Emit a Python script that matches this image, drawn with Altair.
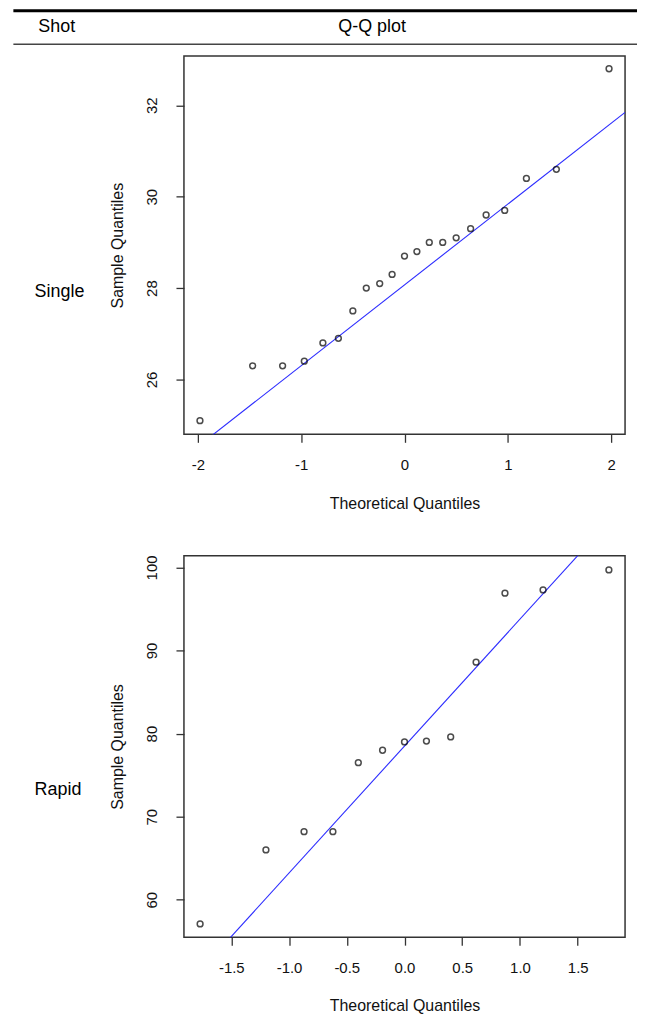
import altair as alt
import pandas as pd

# ---------------- data ----------------
header_labels = ["Shot", "Q-Q plot"]
row_labels = ["Single", "Rapid"]
x_title = "Theoretical Quantiles"
y_title = "Sample Quantiles"

single_theoretical = [-1.98, -1.47, -1.18, -0.97, -0.79, -0.64, -0.50, -0.37, -0.24, -0.12,
                      0.00, 0.12, 0.24, 0.37, 0.50, 0.64, 0.79, 0.97, 1.18, 1.47, 1.98]
single_sample = [25.1, 26.3, 26.3, 26.4, 26.8, 26.9, 27.5, 28.0, 28.1, 28.3,
                 28.7, 28.8, 29.0, 29.0, 29.1, 29.3, 29.6, 29.7, 30.4, 30.6, 32.8]
single_qqline = [28.07, 1.768]          # intercept, slope
single_x_ticks = [-2, -1, 0, 1, 2]
single_y_ticks = [26, 28, 30, 32]
single_x_domain = [-2.135, 2.135]
single_y_domain = [24.80, 33.08]

rapid_theoretical = [-1.77, -1.20, -0.87, -0.62, -0.40, -0.19, 0.00, 0.19, 0.40, 0.62, 0.87, 1.20, 1.77]
rapid_sample = [57.1, 66.0, 68.2, 68.2, 76.5, 78.0, 79.0, 79.1, 79.6, 88.6, 96.9, 97.3, 99.7]
rapid_qqline = [78.5, 15.28]            # intercept, slope
rapid_x_ticks = [-1.5, -1.0, -0.5, 0.0, 0.5, 1.0, 1.5]
rapid_y_ticks = [60, 70, 80, 90, 100]
rapid_x_domain = [-1.91, 1.91]
rapid_y_domain = [55.5, 101.4]

FONT = "Liberation Sans"
PLOT_W = 443


def label_expr(fmt):
    return ("datum.value < 0 ? '-' + format(-datum.value, '%s') : format(datum.value, '%s')" % (fmt, fmt))


def panel(theo, samp, qq, xt, yt, xd, yd, fmt, height):
    pts = pd.DataFrame({"q": theo, "s": samp})
    ln = pd.DataFrame({"q": xd, "s": [qq[0] + qq[1] * v for v in xd]})
    x = alt.X("q:Q",
              scale=alt.Scale(domain=xd, nice=False, zero=False),
              axis=alt.Axis(values=xt, title=x_title, grid=False, domain=False,
                            tickSize=8, tickColor="#333", tickWidth=1.3,
                            labelExpr=label_expr(fmt), labelFont=FONT, labelFontSize=15,
                            labelColor="#111", labelPadding=22, labelBaseline="middle",
                            labelFlush=False, labelOverlap=False,
                            titleFont=FONT, titleFontSize=16, titleFontWeight="normal",
                            titleColor="#111", titleY=69, titleBaseline="middle"))
    y = alt.Y("s:Q",
              scale=alt.Scale(domain=yd, nice=False, zero=False),
              axis=alt.Axis(values=yt, title=y_title, grid=False, domain=False,
                            tickSize=8, tickColor="#333", tickWidth=1.3,
                            labelExpr=label_expr("d"), labelFont=FONT, labelFontSize=15,
                            labelColor="#111", labelPadding=25, labelAngle=270,
                            labelAlign="center", labelBaseline="middle",
                            labelFlush=False, labelOverlap=False,
                            titleFont=FONT, titleFontSize=16, titleFontWeight="normal",
                            titleColor="#111", titleX=-67, titleY=height / 2,
                            titleAlign="center", titleBaseline="middle"))
    line = alt.Chart(ln).mark_line(color="#2a2aff", strokeWidth=1.1, clip=True).encode(x=x, y=y)
    points = alt.Chart(pts).mark_point(shape="circle", filled=False, color="black",
                                       size=34, strokeWidth=1.5).encode(x=x, y=y)
    return line, points


def text_layer(txt, xpos, ypos, size=18, align="left"):
    return alt.Chart(pd.DataFrame({"t": [txt]})).mark_text(
        font=FONT, fontSize=size, color="black", align=align, baseline="middle"
    ).encode(text="t:N", x=alt.value(xpos), y=alt.value(ypos))


def bar_layer(x1, x2, y1, y2, color):
    # horizontal table line drawn as a thin filled band (no stroke)
    return alt.Chart(pd.DataFrame({"k": [0]})).mark_rect(
        color=color, strokeWidth=0
    ).encode(x=alt.value(x1), x2=alt.value(x2), y=alt.value(y1), y2=alt.value(y2))


H1, H2 = 380, 383
l1, p1 = panel(single_theoretical, single_sample, single_qqline, single_x_ticks, single_y_ticks,
               single_x_domain, single_y_domain, "d", H1)
l2, p2 = panel(rapid_theoretical, rapid_sample, rapid_qqline, rapid_x_ticks, rapid_y_ticks,
               rapid_x_domain, rapid_y_domain, ".1f", H2)

top = alt.layer(
    bar_layer(-171.3, 455, -47, -44, "black"),
    bar_layer(-171.3, 455, -12.4, -11.0, "#444"),
    text_layer(header_labels[0], -146.3, -29),
    text_layer(header_labels[1], 189, -29, align="center"),
    text_layer(row_labels[0], -150, 237),
    l1, p1,
).properties(width=PLOT_W, height=H1)

bottom = alt.layer(
    text_layer(row_labels[1], -150, 235),
    l2, p2,
).properties(width=PLOT_W, height=H2)

chart = alt.vconcat(top, bottom, spacing=42).properties(
    padding={"left": 3.7, "top": -2, "right": 0, "bottom": 0}
).configure_view(stroke="#333", strokeWidth=1.5)

chart.save("out.html", embed_options={"renderer": "svg", "actions": False})
